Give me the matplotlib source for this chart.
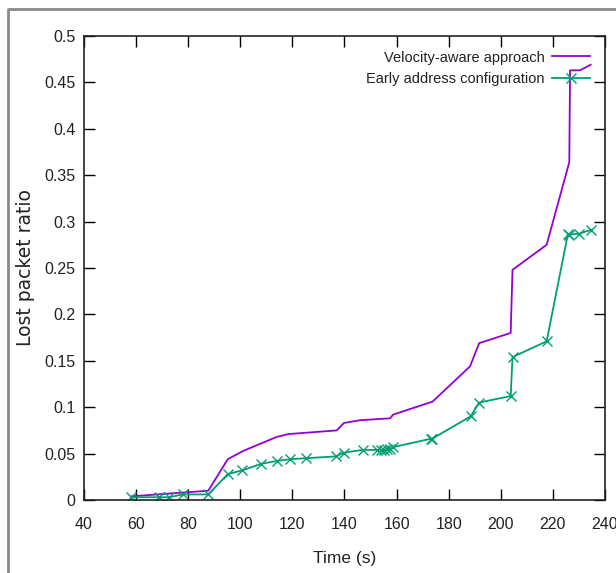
import matplotlib
matplotlib.use("Agg")
import matplotlib.pyplot as plt
from matplotlib.lines import Line2D
from matplotlib import font_manager

# Velocity-aware approach (purple line, no markers)
va_time = [58.3, 87.7, 95.2, 101.2, 114.0, 118.4, 137.0, 139.8, 146.0, 157.5, 158.7,
           173.8, 188.2, 191.7, 203.8, 204.5, 217.6, 226.3, 226.6, 230.4, 234.5]
va_loss = [0.004, 0.010, 0.044, 0.053, 0.068, 0.071, 0.075, 0.083, 0.086, 0.088, 0.092,
           0.106, 0.144, 0.169, 0.180, 0.248, 0.275, 0.364, 0.463, 0.463, 0.469]

# Early address configuration (green line with x markers)
ea_time = [58.0, 68.9, 72.8, 77.9, 87.7, 95.2, 100.8, 108.0, 114.0, 119.1, 125.1, 136.7,
           139.8, 147.0, 152.5, 154.0, 155.2, 156.3, 157.5, 158.7, 173.2, 173.6, 188.4,
           191.7, 203.8, 204.5, 217.6, 225.8, 226.3, 230.1, 234.5]
ea_loss = [0.003, 0.003, 0.003, 0.006, 0.006, 0.028, 0.032, 0.039, 0.042, 0.044, 0.045,
           0.047, 0.051, 0.054, 0.054, 0.054, 0.054, 0.055, 0.055, 0.057, 0.066, 0.066,
           0.090, 0.105, 0.112, 0.154, 0.171, 0.287, 0.286, 0.287, 0.291]

x_ticks = list(range(40, 241, 20))
y_ticks = [0, 0.05, 0.1, 0.15, 0.2, 0.25, 0.3, 0.35, 0.4, 0.45, 0.5]
y_tick_labels = ["0", "0.05", "0.1", "0.15", "0.2", "0.25", "0.3", "0.35", "0.4", "0.45", "0.5"]

# pick a condensed face if one is around, otherwise plain Liberation Sans a bit smaller
narrow, fsize, lsize = "Liberation Sans", 11.5, 10.5
for name, size in [("DejaVu Sans Condensed", 12.5), ("Liberation Sans Narrow", 12.5)]:
    try:
        font_manager.findfont(font_manager.FontProperties(family=name), fallback_to_default=False)
        narrow, fsize, lsize = name, size, size
        break
    except ValueError:
        pass

fig = plt.figure(figsize=(6.16, 5.73), dpi=100)
ax = fig.add_axes([0.1364, 0.1274, 0.8457, 0.8098])

ax.plot(va_time, va_loss, color="#9400D3", lw=1.3, label="Velocity-aware approach")
ax.plot(ea_time, ea_loss, color="#009E73", lw=1.3, marker="x", ms=7, mew=1.0,
        label="Early address configuration")

ax.set_xlim(40, 240)
ax.set_ylim(0, 0.5)
ax.set_xticks(x_ticks)
ax.set_yticks(y_ticks)
ax.set_yticklabels(y_tick_labels)
ax.tick_params(direction="in", length=8, width=1, top=True, right=True)
ax.tick_params(axis="x", pad=12)
ax.tick_params(axis="y", pad=6)
for lab in ax.get_xticklabels() + ax.get_yticklabels():
    lab.set_family(narrow)
    lab.set_fontsize(fsize)
    lab.set_color("#222222")
for sp in ax.spines.values():
    sp.set_linewidth(1.2)
    sp.set_color("#222222")

ax.set_xlabel("Time (s)", family=narrow, fontsize=fsize + 1, color="#222222")
ax.set_ylabel("Lost packet ratio", fontsize=13.5, color="#222222")
ax.xaxis.set_label_coords(0.5, -0.11)
ax.yaxis.set_label_coords(-0.095, 0.5)

leg = ax.legend(loc="upper right", frameon=False, markerfirst=False, handlelength=2.6,
                borderaxespad=0.6, handletextpad=0.55, labelspacing=0.5,
                prop={"family": narrow, "size": lsize})
for t in leg.get_texts():
    t.set_color("#222222")

# grey border of the cropped screenshot
fig.add_artist(Line2D([8 / 616, 8 / 616, 1.0], [0.0, 1 - 9 / 573, 1 - 9 / 573],
                      transform=fig.transFigure, color="#8a8a8a", lw=2))

fig.savefig("out.png", dpi=100)
